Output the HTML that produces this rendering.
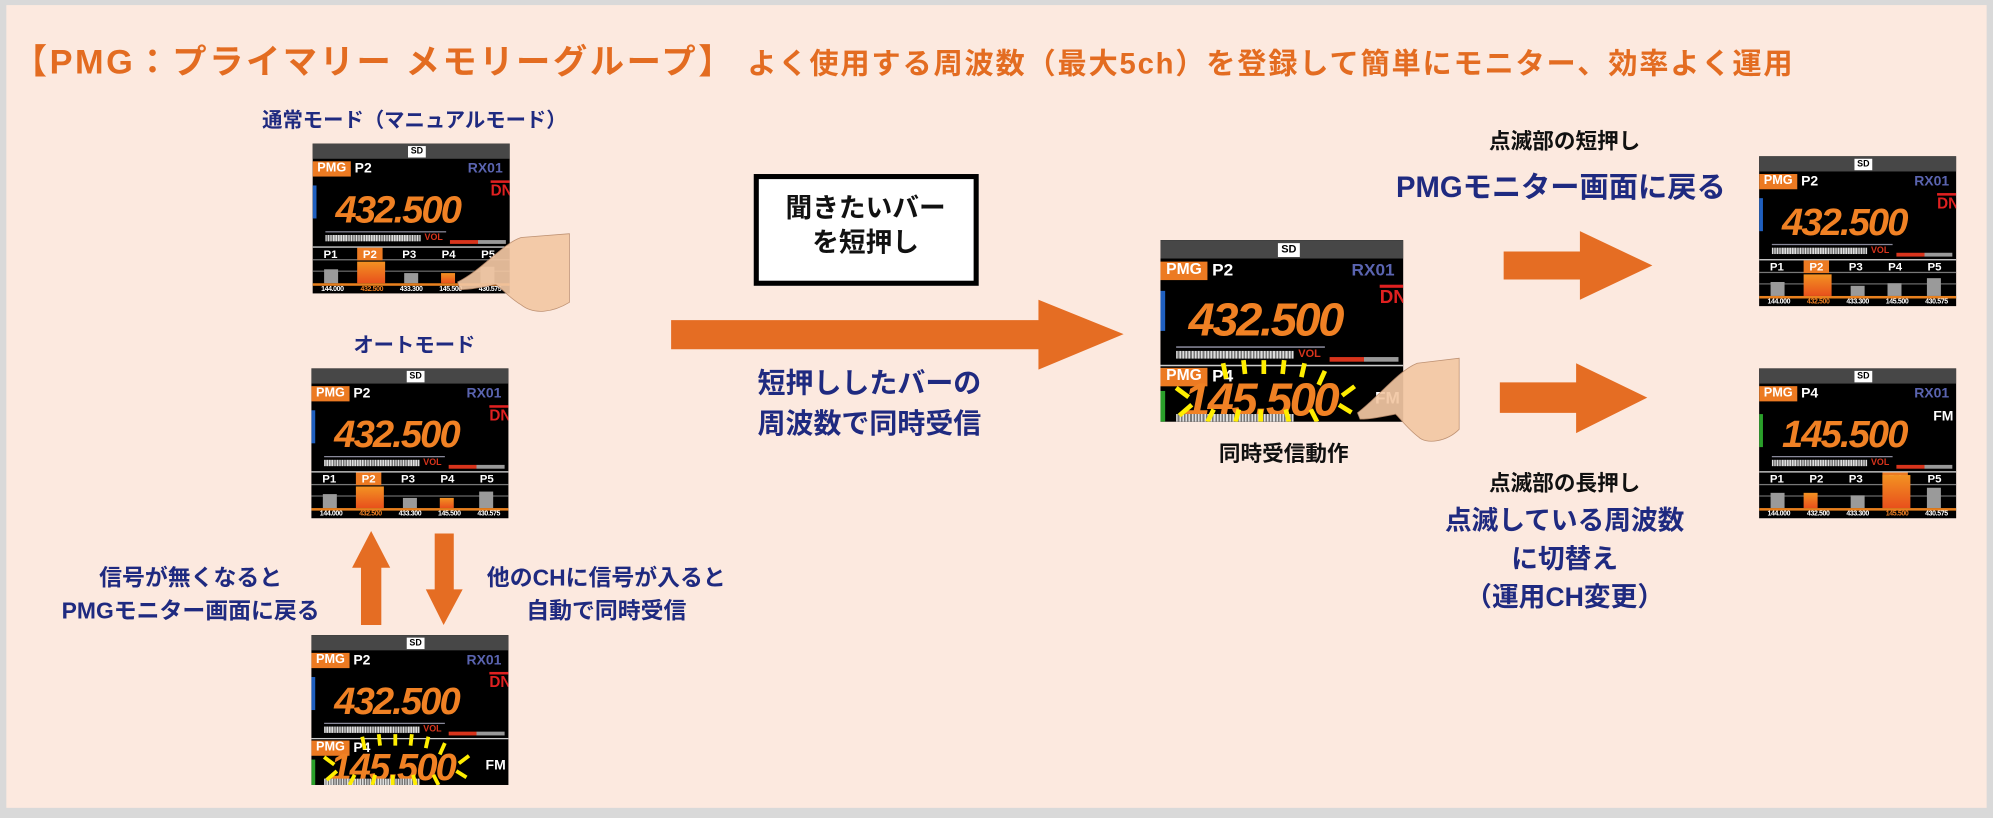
<!DOCTYPE html>
<html><head><meta charset="utf-8">
<style>
*{margin:0;padding:0;box-sizing:border-box}
html,body{width:1993px;height:818px;overflow:hidden;background:#d9d9d9}
#w{position:absolute;left:0;top:0;width:1568px;height:644px;transform-origin:0 0;transform:scale(1.27105,1.2702);background:#d9d9d9}
#bg{position:absolute;left:5px;top:4px;width:1558px;height:632px;background:#fce9df}
.t{position:absolute;white-space:nowrap;font-family:"Liberation Sans","Noto Sans CJK JP",sans-serif;font-weight:bold}
.nv{color:#1f2a80}
.or{color:#e36c21}
.bk{color:#111}
.c{transform:translateX(-50%);text-align:center}
.scr{position:absolute;width:155px;height:118px;background:#000;overflow:hidden;font-family:"Liberation Sans",sans-serif;font-weight:bold;transform-origin:0 0}
.scr div{position:absolute}
.tb{left:0;top:0;width:155px;height:12px;background:#474747}
.sd{left:75px;top:2px;width:14px;height:9px;background:#fff;color:#000;font-size:7px;line-height:9px;text-align:center}
.pmg{background:#ec7a22;color:#fff;font-size:10px;line-height:12px;width:30px;text-align:center}
.pl{color:#fff;font-size:11px;line-height:12px}
.rx{color:#5a64b0;font-size:11px;line-height:12px}
.dn{color:#e02020;font-size:12px;line-height:12px;border-top:2px solid #e02020;width:15px}
.fq{color:#f08124;font-size:30px;font-style:italic;line-height:30px;letter-spacing:-1.5px}
.mt{height:5px;background:repeating-linear-gradient(90deg,#ddd 0 1px,#777 1px 2px)}
.vol{color:#d8341c;font-size:7px;line-height:8px}
.prow{left:0;width:155px;height:11px;border-top:1px solid #ddd;border-bottom:1px solid #777}
.prow span{position:absolute;top:0;width:20px;text-align:center;color:#fff;font-size:9px;line-height:10px}
.bar{background:#9a9a9a}
.ob{background:linear-gradient(#f39222,#e8501c)}
.fl{left:0;width:155px;height:8px;border-top:2px solid #e8801e;font-size:5.5px;color:#fff;line-height:6px;letter-spacing:-0.3px}
.fl span{position:absolute;width:31px;text-align:center}
</style></head><body>
<div id="w">
<div id="bg"></div>

<div class="t or" style="left:10px;top:27px;font-size:27px;letter-spacing:2px">【PMG：プライマリー メモリーグループ】</div>
<div class="t or" style="left:588px;top:31px;font-size:23px;letter-spacing:1.4px">よく使用する周波数（最大5ch）を登録して簡単にモニター、効率よく運用</div>

<div class="t nv c" style="left:326px;top:81px;font-size:16px">通常モード（マニュアルモード）</div>
<div class="t nv c" style="left:326px;top:258px;font-size:16px">オートモード</div>

<div class="scr" style="left:246px;top:113px">
 <div class="tb"></div><div class="sd">SD</div>
 <div class="pmg" style="left:0;top:14px">PMG</div><div class="pl" style="left:33px;top:14px">P2</div><div class="rx" style="left:122px;top:14px">RX01</div>
 <div class="dn" style="left:140px;top:29px">DN</div>
 <div style="left:0;top:33px;width:3px;height:26px;background:#1f5fbf"></div>
 <div class="fq" style="left:18px;top:38px">432.500</div>
 <div class="mt" style="left:10px;top:72px;width:75px"></div><div style="left:10px;top:69px;width:95px;height:1px;background:#889"></div>
 <div class="vol" style="left:88px;top:71px">VOL</div><div style="left:108px;top:76px;width:44px;height:3px;background:linear-gradient(90deg,#d8341c 50%,#999 50%)"></div>
 <div class="prow" style="top:81px"><span style="left:4px">P1</span><span style="left:35px;background:#ec7a22">P2</span><span style="left:66px">P3</span><span style="left:97px">P4</span><span style="left:128px">P5</span></div>
 <div style="left:0;top:100px;width:155px;height:1px;background:#666"></div>
 <div class="bar" style="left:9px;top:99px;width:11px;height:11px"></div>
 <div class="ob" style="left:35px;top:93px;width:22px;height:17px"></div>
 <div class="bar" style="left:72px;top:102px;width:11px;height:8px"></div>
 <div class="ob" style="left:101px;top:102px;width:11px;height:8px"></div>
 <div class="bar" style="left:132px;top:97px;width:11px;height:13px"></div>
 <div class="fl" style="top:110px"><span style="left:0">144.000</span><span style="left:31px;color:#f08124">432.500</span><span style="left:62px">433.300</span><span style="left:93px">145.500</span><span style="left:124px">430.575</span></div>
</div>

<div class="scr" style="left:245px;top:290px">
 <div class="tb"></div><div class="sd">SD</div>
 <div class="pmg" style="left:0;top:14px">PMG</div><div class="pl" style="left:33px;top:14px">P2</div><div class="rx" style="left:122px;top:14px">RX01</div>
 <div class="dn" style="left:140px;top:29px">DN</div>
 <div style="left:0;top:33px;width:3px;height:26px;background:#1f5fbf"></div>
 <div class="fq" style="left:18px;top:38px">432.500</div>
 <div class="mt" style="left:10px;top:72px;width:75px"></div><div style="left:10px;top:69px;width:95px;height:1px;background:#889"></div>
 <div class="vol" style="left:88px;top:71px">VOL</div><div style="left:108px;top:76px;width:44px;height:3px;background:linear-gradient(90deg,#d8341c 50%,#999 50%)"></div>
 <div class="prow" style="top:81px"><span style="left:4px">P1</span><span style="left:35px;background:#ec7a22">P2</span><span style="left:66px">P3</span><span style="left:97px">P4</span><span style="left:128px">P5</span></div>
 <div style="left:0;top:100px;width:155px;height:1px;background:#666"></div>
 <div class="bar" style="left:9px;top:99px;width:11px;height:11px"></div>
 <div class="ob" style="left:35px;top:93px;width:22px;height:17px"></div>
 <div class="bar" style="left:72px;top:102px;width:11px;height:8px"></div>
 <div class="ob" style="left:101px;top:102px;width:11px;height:8px"></div>
 <div class="bar" style="left:132px;top:97px;width:11px;height:13px"></div>
 <div class="fl" style="top:110px"><span style="left:0">144.000</span><span style="left:31px;color:#f08124">432.500</span><span style="left:62px">433.300</span><span style="left:93px">145.500</span><span style="left:124px">430.575</span></div>
</div>

<div class="scr" style="left:245px;top:500px">
 <div class="tb"></div><div class="sd">SD</div>
 <div class="pmg" style="left:0;top:14px">PMG</div><div class="pl" style="left:33px;top:14px">P2</div><div class="rx" style="left:122px;top:14px">RX01</div>
 <div class="dn" style="left:140px;top:29px">DN</div>
 <div style="left:0;top:33px;width:3px;height:26px;background:#1f5fbf"></div>
 <div class="fq" style="left:18px;top:38px">432.500</div>
 <div class="mt" style="left:10px;top:72px;width:75px"></div><div style="left:10px;top:69px;width:95px;height:1px;background:#889"></div>
 <div class="vol" style="left:88px;top:71px">VOL</div><div style="left:108px;top:76px;width:44px;height:3px;background:linear-gradient(90deg,#d8341c 50%,#999 50%)"></div>
 <div style="left:0;top:81px;width:155px;height:1px;background:#ccc"></div>
 <div class="pmg" style="left:0;top:83px">PMG</div><div class="pl" style="left:33px;top:83px">P4</div>
 <div style="left:0;top:98px;width:3px;height:20px;background:#2aa02a"></div>
 <div class="fq" style="left:15px;top:90px">145.500</div>
 <div class="pl" style="left:137px;top:97px">FM</div>
 <div class="mt" style="left:10px;top:113px;width:75px"></div>
 <svg style="position:absolute;left:0;top:0" width="155" height="118"><g stroke="#ffee00" stroke-width="3"><line x1="40" y1="80" x2="42" y2="90"/><line x1="53" y1="78" x2="54" y2="87"/><line x1="66" y1="78" x2="66" y2="87"/><line x1="79" y1="78" x2="78" y2="87"/><line x1="92" y1="80" x2="90" y2="89"/><line x1="105" y1="85" x2="101" y2="94"/><line x1="124" y1="95" x2="116" y2="101"/><line x1="122" y1="112" x2="114" y2="107"/><line x1="10" y1="96" x2="18" y2="102"/><line x1="12" y1="114" x2="20" y2="107"/><line x1="30" y1="118" x2="34" y2="110"/><line x1="48" y1="118" x2="50" y2="110"/><line x1="64" y1="118" x2="64" y2="110"/><line x1="82" y1="118" x2="80" y2="110"/><line x1="100" y1="118" x2="96" y2="110"/></g></svg>
</div>

<div class="scr" style="left:913px;top:189px;transform:scale(1.232,1.212)">
 <div class="tb"></div><div class="sd">SD</div>
 <div class="pmg" style="left:0;top:14px">PMG</div><div class="pl" style="left:33px;top:14px">P2</div><div class="rx" style="left:122px;top:14px">RX01</div>
 <div class="dn" style="left:140px;top:29px">DN</div>
 <div style="left:0;top:33px;width:3px;height:26px;background:#1f5fbf"></div>
 <div class="fq" style="left:18px;top:38px">432.500</div>
 <div class="mt" style="left:10px;top:72px;width:75px"></div><div style="left:10px;top:69px;width:95px;height:1px;background:#889"></div>
 <div class="vol" style="left:88px;top:71px">VOL</div><div style="left:108px;top:76px;width:44px;height:3px;background:linear-gradient(90deg,#d8341c 50%,#999 50%)"></div>
 <div style="left:0;top:81px;width:155px;height:1px;background:#ccc"></div>
 <div class="pmg" style="left:0;top:83px">PMG</div><div class="pl" style="left:33px;top:83px">P4</div>
 <div style="left:0;top:98px;width:3px;height:20px;background:#2aa02a"></div>
 <div class="fq" style="left:15px;top:90px">145.500</div>
 <div class="pl" style="left:137px;top:97px">FM</div>
 <div class="mt" style="left:10px;top:113px;width:75px"></div>
 <svg style="position:absolute;left:0;top:0" width="155" height="118"><g stroke="#ffee00" stroke-width="3"><line x1="40" y1="80" x2="42" y2="90"/><line x1="53" y1="78" x2="54" y2="87"/><line x1="66" y1="78" x2="66" y2="87"/><line x1="79" y1="78" x2="78" y2="87"/><line x1="92" y1="80" x2="90" y2="89"/><line x1="105" y1="85" x2="101" y2="94"/><line x1="124" y1="95" x2="116" y2="101"/><line x1="122" y1="112" x2="114" y2="107"/><line x1="10" y1="96" x2="18" y2="102"/><line x1="12" y1="114" x2="20" y2="107"/><line x1="30" y1="118" x2="34" y2="110"/><line x1="48" y1="118" x2="50" y2="110"/><line x1="64" y1="118" x2="64" y2="110"/><line x1="82" y1="118" x2="80" y2="110"/><line x1="100" y1="118" x2="96" y2="110"/></g></svg>
</div>

<div class="scr" style="left:1384px;top:123px">
 <div class="tb"></div><div class="sd">SD</div>
 <div class="pmg" style="left:0;top:14px">PMG</div><div class="pl" style="left:33px;top:14px">P2</div><div class="rx" style="left:122px;top:14px">RX01</div>
 <div class="dn" style="left:140px;top:29px">DN</div>
 <div style="left:0;top:33px;width:3px;height:26px;background:#1f5fbf"></div>
 <div class="fq" style="left:18px;top:38px">432.500</div>
 <div class="mt" style="left:10px;top:72px;width:75px"></div><div style="left:10px;top:69px;width:95px;height:1px;background:#889"></div>
 <div class="vol" style="left:88px;top:71px">VOL</div><div style="left:108px;top:76px;width:44px;height:3px;background:linear-gradient(90deg,#d8341c 50%,#999 50%)"></div>
 <div class="prow" style="top:81px"><span style="left:4px">P1</span><span style="left:35px;background:#ec7a22">P2</span><span style="left:66px">P3</span><span style="left:97px">P4</span><span style="left:128px">P5</span></div>
 <div style="left:0;top:100px;width:155px;height:1px;background:#666"></div>
 <div class="bar" style="left:9px;top:99px;width:11px;height:11px"></div>
 <div class="ob" style="left:35px;top:93px;width:22px;height:17px"></div>
 <div class="bar" style="left:72px;top:102px;width:11px;height:8px"></div>
 <div class="bar" style="left:101px;top:100px;width:11px;height:10px"></div>
 <div class="bar" style="left:132px;top:96px;width:11px;height:14px"></div>
 <div class="fl" style="top:110px"><span style="left:0">144.000</span><span style="left:31px;color:#f08124">432.500</span><span style="left:62px">433.300</span><span style="left:93px">145.500</span><span style="left:124px">430.575</span></div>
</div>

<div class="scr" style="left:1384px;top:290px">
 <div class="tb"></div><div class="sd">SD</div>
 <div class="pmg" style="left:0;top:14px">PMG</div><div class="pl" style="left:33px;top:14px">P4</div><div class="rx" style="left:122px;top:14px">RX01</div>
 <div class="pl" style="left:137px;top:32px">FM</div>
 <div style="left:0;top:36px;width:3px;height:26px;background:#2aa02a"></div>
 <div class="fq" style="left:18px;top:38px">145.500</div>
 <div class="mt" style="left:10px;top:72px;width:75px"></div><div style="left:10px;top:69px;width:95px;height:1px;background:#889"></div>
 <div class="vol" style="left:88px;top:71px">VOL</div><div style="left:108px;top:76px;width:44px;height:3px;background:linear-gradient(90deg,#d8341c 50%,#999 50%)"></div>
 <div class="prow" style="top:81px"><span style="left:4px">P1</span><span style="left:35px">P2</span><span style="left:66px">P3</span><span style="left:97px;background:#ec7a22">P4</span><span style="left:128px">P5</span></div>
 <div style="left:0;top:100px;width:155px;height:1px;background:#666"></div>
 <div class="bar" style="left:9px;top:98px;width:11px;height:12px"></div>
 <div class="ob" style="left:35px;top:98px;width:11px;height:12px"></div>
 <div class="bar" style="left:72px;top:100px;width:11px;height:10px"></div>
 <div class="ob" style="left:97px;top:84px;width:22px;height:26px"></div>
 <div class="bar" style="left:132px;top:94px;width:11px;height:16px"></div>
 <div class="fl" style="top:110px"><span style="left:0">144.000</span><span style="left:31px">432.500</span><span style="left:62px">433.300</span><span style="left:93px;color:#f08124">145.500</span><span style="left:124px">430.575</span></div>
</div>

<svg style="position:absolute;left:350px;top:182px" width="100" height="66"><path d="M10 40 C30 30 45 10 60 5 L98 2 L98 56 C85 64 70 66 60 58 C50 52 45 45 40 42 C30 44 20 46 12 46 Z" fill="#f2c7a3" opacity="0.92" stroke="#b98a6a" stroke-width="0.6"/></svg>
<svg style="position:absolute;left:1060px;top:280px" width="90" height="70"><path d="M8 45 C25 32 40 12 55 6 L88 2 L88 58 C78 68 62 70 56 64 C48 58 42 50 38 46 C28 48 18 50 10 50 Z" fill="#f2c7a3" opacity="0.92" stroke="#b98a6a" stroke-width="0.6"/></svg>

<div style="position:absolute;left:593px;top:137px;width:177px;height:88px;border:4px solid #000;background:#fff"></div>
<div class="t bk c" style="left:681px;top:151px;font-size:21px;line-height:27px">聞きたいバー<br>を短押し</div>

<svg style="position:absolute;left:0;top:0" width="1568" height="644">
 <polygon points="528,252 817,252 817,236 884,263 817,291 817,275 528,275" fill="#e56d23"/>
 <polygon points="1183,198 1243,198 1243,182 1300,209 1243,236 1243,220 1183,220" fill="#e56d23"/>
 <polygon points="1180,301 1240,301 1240,286 1296,313 1240,341 1240,325 1180,325" fill="#e56d23"/>
 <polygon points="284,492 300,492 300,447 307,447 292,418 277,447 284,447" fill="#e56d23"/>
 <polygon points="342,420 357,420 357,464 364,464 349,492 335,464 342,464" fill="#e56d23"/>
</svg>

<div class="t nv c" style="left:684px;top:286px;font-size:22px;line-height:32px">短押ししたバーの<br>周波数で同時受信</div>
<div class="t bk c" style="left:1010px;top:343px;font-size:17px">同時受信動作</div>

<div class="t bk c" style="left:1231px;top:97px;font-size:17px">点滅部の短押し</div>
<div class="t nv c" style="left:1228px;top:128px;font-size:23px">PMGモニター画面に戻る</div>
<div class="t bk c" style="left:1231px;top:366px;font-size:17px">点滅部の長押し</div>
<div class="t nv c" style="left:1231px;top:396px;font-size:21px;line-height:30px">点滅している周波数<br>に切替え<br>（運用CH変更）</div>

<div class="t nv c" style="left:150px;top:442px;font-size:18px;line-height:26px">信号が無くなると<br>PMGモニター画面に戻る</div>
<div class="t nv c" style="left:477px;top:442px;font-size:18px;line-height:26px">他のCHに信号が入ると<br>自動で同時受信</div>
</div>
</body></html>
